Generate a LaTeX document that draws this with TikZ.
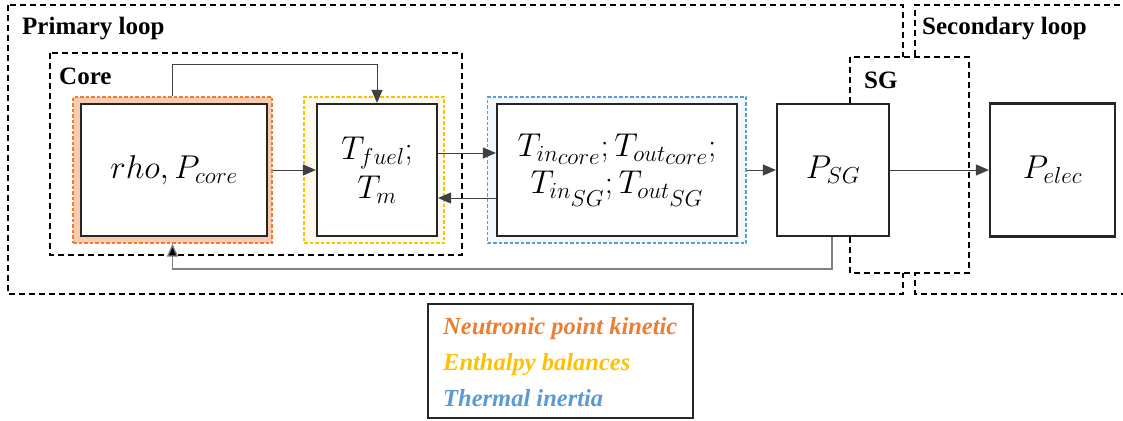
\RequirePackage{fix-cm}
\documentclass[tikz,border=0pt]{standalone}
\usepackage{fontspec}
\setmainfont{Liberation Serif}
\usetikzlibrary{arrows.meta,calc}
\definecolor{cOrange}{HTML}{ED7D31}
\definecolor{cOrangeFill}{HTML}{F8CBAD}
\definecolor{cYellow}{HTML}{FFC000}
\definecolor{cYellowFill}{HTML}{FFFAEE}
\definecolor{cBlue}{HTML}{5B9BD5}
\definecolor{cBlueFill}{HTML}{F2F7FC}
\definecolor{cConn}{HTML}{404040}
\definecolor{cBack}{HTML}{808080}
\tikzset{
  loopbox/.style={draw=black, line width=1.6pt, dash pattern=on 6pt off 4pt},
  sgbox/.style={loopbox, fill=white},
  frame/.style={line width=1.3pt, dash pattern=on 3.5pt off 2pt, inner sep=0pt},
  blockbox/.style={draw=black!85, fill=white, line width=2.2pt, inner sep=0pt, align=center,
    font=\fontsize{33}{41}\selectfont},
  conn/.style={draw=cConn, line width=1pt, -{Triangle[length=13pt,width=11pt]}},
  backconn/.style={draw=cBack, line width=1.3pt, -{Triangle[length=13pt,width=11pt,fill=black]}},
  title/.style={font=\fontsize{25}{28}\selectfont\bfseries, inner sep=0pt},
  legtext/.style={font=\fontsize{24.5}{28}\selectfont\bfseries\itshape, inner sep=0pt, anchor=base west}
}
\begin{document}
\begin{tikzpicture}[x=1pt,y=-1pt]
\useasboundingbox (0,0) rectangle (1123,420);
% loops
\draw[loopbox] (8,5) rectangle (903,294);
\draw[loopbox] (1130,5) -- (915,5) -- (915,294) -- (1130,294);
\node[title, anchor=base west] (prim) at (22,35) {Primary loop};
\node[title, anchor=base west] (sec) at (922,35) {Secondary loop};
% core
\draw[loopbox] (50,53) rectangle (462,255);
\node[title, anchor=base west] (coreL) at (59,84) {Core};
% SG
\draw[sgbox] (850,57) rectangle (969,273);
\node[title, anchor=base west] (sgL) at (864,88) {SG};
% coloured frames
\node[frame, draw=cOrange, fill=cOrangeFill, minimum width=199pt, minimum height=146pt] (orangeF) at (172.5,170) {};
\node[frame, draw=cYellow, fill=cYellowFill, minimum width=140pt, minimum height=146pt] (yellowF) at (374,170) {};
\node[frame, draw=cBlue, fill=cBlueFill, minimum width=258.5pt, minimum height=146pt] (blueF) at (616.75,170) {};
% blocks
\node[blockbox, minimum width=186pt, minimum height=132pt] (rho) at (174,170) {$rho, P_{core}$};
\node[blockbox, minimum width=120pt, minimum height=132pt] (tfuel) at (377,170) {$T_{fuel};$\\[-2pt]$T_m$};
\node[blockbox, minimum width=240pt, minimum height=132pt] (tin) at (617,170)
  {$T_{in_{\scriptstyle core}}; T_{out_{\scriptstyle core}};$\\[-4pt]$T_{in_{\scriptstyle SG}}; T_{out_{\scriptstyle SG}}$};
\node[blockbox, minimum width=112pt, minimum height=132pt] (psg) at (833,170) {$P_{SG}$};
\node[blockbox, minimum width=125pt, minimum height=133pt] (pelec) at (1052.5,170) {$P_{elec}$};
% connectors
\draw[conn] (orangeF.east) -- (tfuel.west);
\draw[conn] ([yshift=17pt]tfuel.east) -- ([yshift=17pt]tin.west);
\draw[conn] ([yshift=-28pt]tin.west) -- ([yshift=-28pt]tfuel.east);
\draw[conn] (blueF.east) -- (psg.west);
\draw[conn] (psg.east) -- (pelec.west);
\draw[conn] (orangeF.north) -- ++(0,-32) -| (tfuel.north);
\draw[backconn] ([xshift=-1pt]psg.south) -- ++(0,32) -| (orangeF.south);
% legend
\node[draw=black!85, line width=1.6pt, minimum width=265pt, minimum height=114pt, inner sep=0pt] (legend) at (560.5,361) {};
\node[legtext, text=cOrange] (l1) at (443,334) {Neutronic point kinetic};
\node[legtext, text=cYellow] (l2) at (443,370) {Enthalpy balances};
\node[legtext, text=cBlue] (l3) at (443,406) {Thermal inertia};
\end{tikzpicture}
\end{document}
